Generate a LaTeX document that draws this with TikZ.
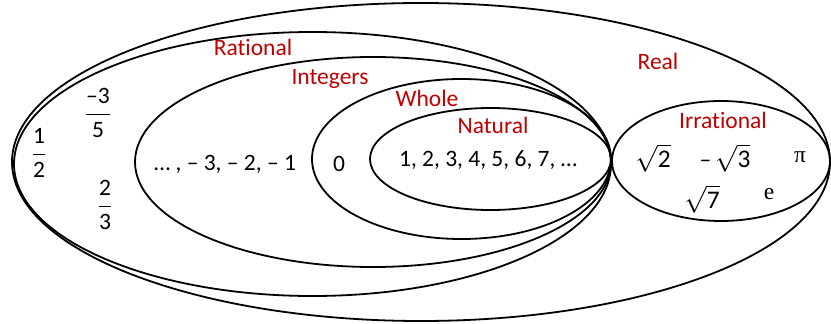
\documentclass[tikz,border=0pt]{standalone}
\usepackage{amsmath}
\usepackage{graphicx}
\usepackage{fontspec}
\setmainfont{Carlito}[Ligatures=NoCommon]
\newfontfamily\serifgr{Liberation Serif}
\usetikzlibrary{shapes.geometric}
\definecolor{setred}{RGB}{192,0,0}
\newcommand{\bigroot}[1]{\scalebox{1.08}{$\sqrt{\text{#1}}$}}
\begin{document}
\begin{tikzpicture}[x=1pt,y=-1pt,
  setoval/.style={draw,ellipse,line width=1.8pt,inner sep=0pt,outer sep=0pt},
  setlabel/.style={text=setred,font=\fontsize{23.5}{26}\selectfont,inner sep=0pt},
  member/.style={text=black,font=\fontsize{23.5}{26}\selectfont,inner sep=0pt}]
\useasboundingbox (0,0) rectangle (831,324);
\node[setoval,minimum width=818pt,minimum height=318pt] (real) at (421,162) {};
\node[setoval,minimum width=597pt,minimum height=264pt] (rational) at (312.5,164) {};
\node[setoval,minimum width=476pt,minimum height=210pt] (integers) at (373,162) {};
\node[setoval,minimum width=299pt,minimum height=160pt] (whole) at (461.5,159) {};
\node[setoval,minimum width=241pt,minimum height=102pt] (natural) at (490.5,159) {};
\node[setoval,minimum width=218pt,minimum height=120pt] (irrational) at (721,161) {};

\node[setlabel] (lreal) at (658,61) {Real};
\node[setlabel] (lrational) at (253,47) {Rational};
\node[setlabel] (lintegers) at (330,79) {Integers};
\node[setlabel] (lwhole) at (427,98) {Whole};
\node[setlabel] (lnatural) at (493,125) {Natural};
\node[setlabel] (lirrational) at (723,120) {Irrational};

\node[member] (half) at (39,153) {$\dfrac{\text{1}}{\text{2}}$};
\node[member] (mthreefifths) at (98,113) {$\dfrac{\text{–3}}{\text{5}}$};
\node[member] (twothirds) at (105,205) {$\dfrac{\text{2}}{\text{3}}$};
\node[member] (negs) at (225,164) {… , – 3, – 2, – 1};
\node[member] (zero) at (339,164) {0};
\node[member] (nats) at (488,160) {1, 2, 3, 4, 5, 6, 7, …};
\node[member] (sqrttwo) at (653,158) {\bigroot{2}};
\node[member] (msqrtthree) at (725,158) {–\,\bigroot{3}};
\node[member] (pi) at (800,157) {\serifgr π};
\node[member] (sqrtseven) at (702,199) {\bigroot{7}};
\node[member] (e) at (769,194) {\serifgr e};
\end{tikzpicture}
\end{document}
